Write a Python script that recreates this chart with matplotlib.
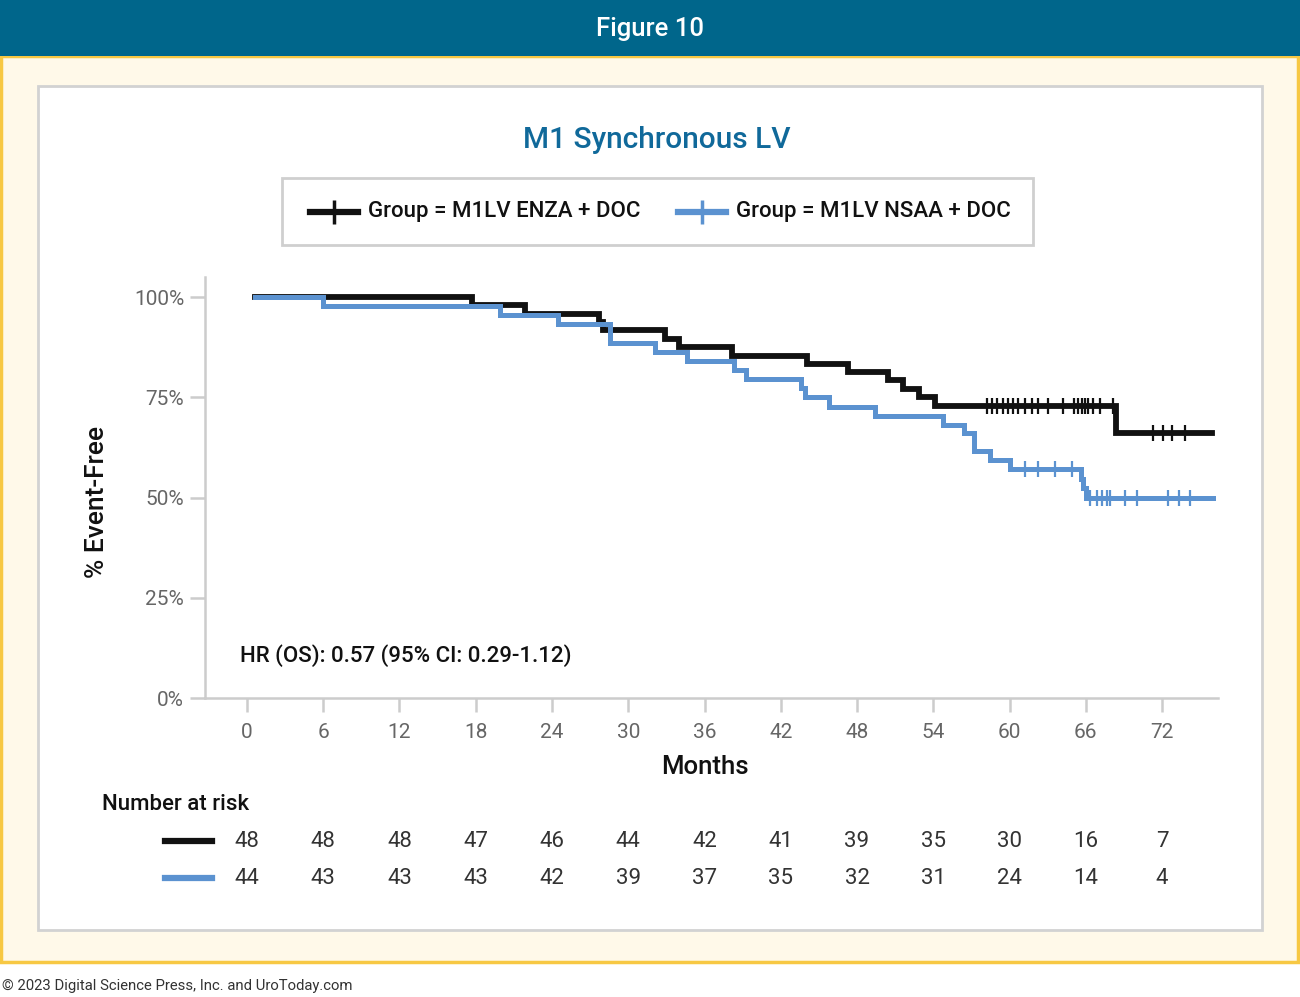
import numpy as np
import matplotlib
matplotlib.use("Agg")
import matplotlib.pyplot as plt
from matplotlib.patches import Rectangle
from matplotlib.lines import Line2D

plt.rcParams['font.family'] = ['Roboto', 'DejaVu Sans']

# Kaplan-Meier Stufen (Monat, % ereignisfrei nach dem Schritt)
enza_times = [0.6, 17.7, 21.9, 27.7, 28.0, 32.9, 34.0, 38.2, 44.1, 47.3, 50.4, 51.6, 52.9, 54.1, 68.4]
enza_surv = [100, 97.9, 95.8, 93.7, 91.7, 89.6, 87.5, 85.4, 83.3, 81.2, 79.2, 77.1, 75.0, 72.9, 66.2]
enza_end = 75.9
enza_cens = [58.2, 58.6, 59.0, 59.5, 59.9, 60.3, 60.7, 61.2, 61.8, 62.2, 63.0, 64.2,
             65.1, 65.4, 65.7, 65.9, 66.2, 66.6, 67.1, 68.1, 71.3, 72.1, 72.8, 73.8]

nsaa_times = [0.6, 6.0, 19.9, 24.5, 28.6, 32.1, 34.6, 38.3, 39.3, 43.6, 43.9, 45.8, 49.4,
              54.8, 56.4, 57.2, 58.5, 60.0, 65.6, 65.8, 66.0]
nsaa_surv = [100, 97.7, 95.4, 93.2, 88.6, 86.4, 84.1, 81.8, 79.5, 77.3, 75.0, 72.7, 70.4,
             68.2, 66.0, 61.7, 59.4, 57.2, 54.5, 52.3, 50.0]
nsaa_end = 76.0
nsaa_cens = [61.2, 62.2, 63.6, 64.9, 66.3, 66.9, 67.3, 67.7, 67.9, 69.1, 70.0, 72.5, 73.3, 74.2]

risk_months = [0, 6, 12, 18, 24, 30, 36, 42, 48, 54, 60, 66, 72]
risk_enza = [48, 48, 48, 47, 46, 44, 42, 41, 39, 35, 30, 16, 7]
risk_nsaa = [44, 43, 43, 43, 42, 39, 37, 35, 32, 31, 24, 14, 4]

BLACK = "#111111"
BLUE = "#5b92d0"
TEAL = "#00668b"
GREY_TXT = "#666666"
GREY_LINE = "#cccccc"
MED = "medium"

W, H = 1300, 997
fig = plt.figure(figsize=(W / 100, H / 100), dpi=100)


def fx(px):
    return px / W


def fy(py):
    return 1 - py / H


# Hintergrund
fig.patches.append(Rectangle((0, fy(997)), 1, fy(0) - fy(997), transform=fig.transFigure,
                             facecolor="white", edgecolor="none", zorder=-10))
fig.patches.append(Rectangle((fx(1), fy(962)), fx(1297), fy(56) - fy(962), transform=fig.transFigure,
                             facecolor="#fff9e9", edgecolor="#f7c843", linewidth=2.5, zorder=-9))
fig.patches.append(Rectangle((0, fy(56)), 1, fy(0) - fy(56), transform=fig.transFigure,
                             facecolor=TEAL, edgecolor="none", zorder=-8))
fig.patches.append(Rectangle((fx(38), fy(930)), fx(1224), fy(86) - fy(930), transform=fig.transFigure,
                             facecolor="white", edgecolor="#d2d2d2", linewidth=2, zorder=-7))

fig.text(0.5, fy(29), "Figure 10", color="white", fontsize=18.5, fontweight=MED, ha="center", va="center")
fig.text(fx(657), fy(140), "M1 Synchronous LV", color="#10699a", fontsize=21.5, fontweight=MED,
         ha="center", va="center")
fig.text(fx(2), fy(986), "\u00a9 2023 Digital Science Press, Inc. and UroToday.com",
         color="#333333", fontsize=10.7, ha="left", va="center")

# Legende
fig.patches.append(Rectangle((fx(282), fy(245)), fx(751), fy(178) - fy(245), transform=fig.transFigure,
                             facecolor="white", edgecolor="#cfcfcf", linewidth=2))
for x0, col, lab in [(310, BLACK, "Group = M1LV ENZA + DOC"), (678, BLUE, "Group = M1LV NSAA + DOC")]:
    fig.add_artist(Line2D([fx(x0), fx(x0 + 48)], [fy(212), fy(212)], color=col, linewidth=4.5,
                          transform=fig.transFigure))
    fig.add_artist(Line2D([fx(x0 + 24)], [fy(212)], color=col, marker="|", markersize=17,
                          markeredgewidth=2.5, transform=fig.transFigure))
    fig.text(fx(x0 + 58), fy(212), lab, fontsize=16, fontweight=MED, color="#111111",
             ha="left", va="center")

# Achsen
ax = fig.add_axes([fx(205), fy(698), fx(1218) - fx(205), fy(277) - fy(698)])
ax.set_facecolor("none")
ax.set_xlim(-3.3, 76.4)
ax.set_ylim(0, 105)


def km(ax, times, surv, end, cens, col, lw, z):
    xs = list(times) + [end]
    ys = list(surv) + [surv[-1]]
    ax.step(xs, ys, where="post", color=col, linewidth=lw, solid_joinstyle="miter", zorder=z)
    idx = np.searchsorted(times, cens, side="right") - 1
    cy = np.array(surv)[idx]
    ax.plot(cens, cy, linestyle="none", marker="|", markersize=11, markeredgewidth=1.6,
            color=col, zorder=z + 0.5)


km(ax, enza_times, enza_surv, enza_end, enza_cens, BLACK, 4.2, 3)
km(ax, nsaa_times, nsaa_surv, nsaa_end, nsaa_cens, BLUE, 3.6, 4)

for s in ["top", "right"]:
    ax.spines[s].set_visible(False)
for s in ["left", "bottom"]:
    ax.spines[s].set_color(GREY_LINE)
    ax.spines[s].set_linewidth(1.8)

ax.set_xticks(risk_months)
ax.set_yticks([0, 25, 50, 75, 100])
ax.set_yticklabels(["0%", "25%", "50%", "75%", "100%"])
ax.tick_params(axis="both", colors=GREY_LINE, labelcolor=GREY_TXT, labelsize=15, width=1.8)
ax.tick_params(axis="y", length=11, pad=4)
ax.tick_params(axis="x", length=10, pad=8)

# Achsentitel
fig.text(fx(705), fy(767), "Months", fontsize=18.5, fontweight=MED, color="#111111",
         ha="center", va="center")
fig.text(fx(97), fy(502), "% Event-Free", fontsize=19, fontweight=MED, color="#111111",
         rotation=90, ha="center", va="center")

ax.text(fx(240), fy(656), "HR (OS): 0.57 (95% CI: 0.29-1.12)", transform=fig.transFigure,
        fontsize=16, fontweight=MED, color="#111111", ha="left", va="center")

# Number at risk
fig.text(fx(102), fy(804), "Number at risk", fontsize=16, fontweight=MED, color="#111111",
         ha="left", va="center")
for ypx, col, vals in [(841, BLACK, risk_enza), (878, BLUE, risk_nsaa)]:
    fig.add_artist(Line2D([fx(165), fx(212)], [fy(ypx), fy(ypx)], color=col, linewidth=4.5,
                          transform=fig.transFigure))
    for m, v in zip(risk_months, vals):
        xf = ax.transData.transform((m, 0))[0] / fig.bbox.width
        fig.text(xf, fy(ypx), str(v), fontsize=16, color="#333333", ha="center", va="center")

fig.savefig("out.png", dpi=100)
